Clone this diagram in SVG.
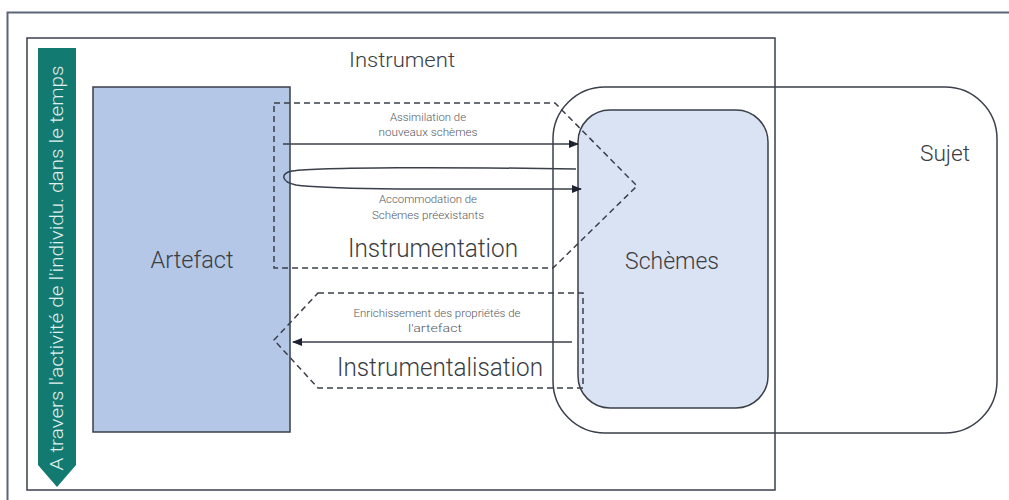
<svg xmlns="http://www.w3.org/2000/svg" width="1009" height="500" viewBox="0 0 1009 500">
<defs>
<style>
.t{font-family:Roboto,"DejaVu Sans Condensed","Liberation Sans",sans-serif;font-weight:300;fill:#3a3d42;text-anchor:middle}
.s{font-size:11px;fill:#55585e}
.m{font-size:21px}
.l{font-size:25px}
.line{fill:none;stroke:#3a3f4a;stroke-width:1.5}
.dash{fill:none;stroke:#3a3f4a;stroke-width:1.5;stroke-dasharray:6 4}
</style>
<marker id="ah" markerWidth="10" markerHeight="8" refX="9" refY="4" orient="auto" markerUnits="userSpaceOnUse">
<path d="M0,0 L10,4 L0,8 Z" fill="#1e2230"/>
</marker>
</defs>
<rect width="1009" height="500" fill="#ffffff"/>
<g id="frame">
<path d="M7.5,500 V12.5 H1009" fill="none" stroke="#5b6577" stroke-width="2"/>
</g>
<g id="timeline">
<path d="M38,48 H76 V465 L57,487 L38,465 Z" fill="#127a70"/>
<text class="t" transform="translate(63,268) rotate(-90)" font-size="19" style="fill:#e3f0ef" textLength="405" lengthAdjust="spacingAndGlyphs">A travers l'activité de l'individu. dans le temps</text>
</g>
<g id="instrument">
<rect x="27" y="38" width="748" height="452" fill="none" stroke="#3a3f4a" stroke-width="1.5"/>
<text class="t m" x="402" y="67" textLength="106" lengthAdjust="spacingAndGlyphs">Instrument</text>
</g>
<g id="artefact">
<rect x="93" y="87" width="197" height="345" fill="#b4c7e7" stroke="#3a3f4a" stroke-width="1.5"/>
<text class="t" x="192" y="268" font-size="23" textLength="83" lengthAdjust="spacingAndGlyphs">Artefact</text>
</g>
<g id="sujet">
<rect x="553" y="87" width="444" height="346" rx="52" ry="52" fill="none" stroke="#3a3f4a" stroke-width="1.5"/>
<text class="t" x="945" y="161" font-size="22" textLength="50" lengthAdjust="spacingAndGlyphs">Sujet</text>
</g>
<g id="schemes">
<rect x="578" y="110" width="190" height="298" rx="32" ry="32" fill="#dae3f3" stroke="#3a3f4a" stroke-width="1.5"/>
<text class="t" x="672" y="269" font-size="23" textLength="94" lengthAdjust="spacingAndGlyphs">Schèmes</text>
</g>
<g id="instrumentation">
<path class="dash" d="M274,103 H555 L637,186 L553,268 H274 Z"/>
<text class="t s" x="428" y="121" textLength="76" lengthAdjust="spacingAndGlyphs">Assimilation de</text>
<text class="t s" x="428" y="136" textLength="99" lengthAdjust="spacingAndGlyphs">nouveaux schèmes</text>
<text class="t s" x="428" y="203" textLength="98" lengthAdjust="spacingAndGlyphs">Accommodation de</text>
<text class="t s" x="428" y="219" textLength="112" lengthAdjust="spacingAndGlyphs">Schèmes préexistants</text>
<text class="t l" x="433" y="257" textLength="170" lengthAdjust="spacingAndGlyphs">Instrumentation</text>
</g>
<g id="instrumentalisation">
<path class="dash" d="M318,293 H583 V388 H318 L274,340 Z"/>
<text class="t s" x="437" y="317" textLength="167" lengthAdjust="spacingAndGlyphs">Enrichissement des propriétés de</text>
<text class="t s" x="435" y="332" textLength="54" lengthAdjust="spacingAndGlyphs">l'artefact</text>
<text class="t l" x="440" y="376" textLength="206" lengthAdjust="spacingAndGlyphs">Instrumentalisation</text>
</g>
<g id="connectors">
<path class="line" d="M283,144 H578" marker-end="url(#ah)"/>
<path class="line" d="M576,169 C450,167 320,167 292,171 C280,173 281,182 296,185 C330,190 450,189 581,189" marker-end="url(#ah)"/>
<path class="line" d="M572,342 H293" marker-end="url(#ah)"/>
</g>
</svg>
